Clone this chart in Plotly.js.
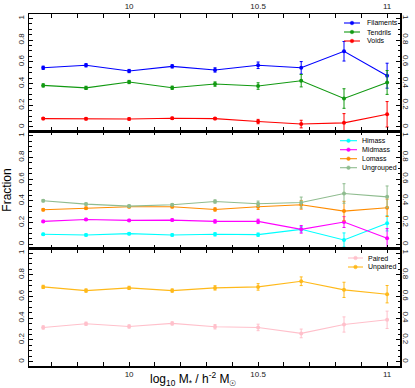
<!DOCTYPE html>
<html>
<head>
<meta charset="utf-8">
<script src="https://cdn.plot.ly/plotly-3.0.1.min.js"></script>
<style>
html, body { margin: 0; padding: 0; background: #fff; }
#fraction-plot { width: 415px; height: 388px; }
</style>
</head>
<body>
<div id="fraction-plot"></div>
<script>
// stellar mass bins, log10 M* / h^-2 Msun
var mass = [9.667, 9.833, 10.0, 10.167, 10.333, 10.5, 10.667, 10.833, 11.0];

// top panel: environment
var filaments    = [0.545, 0.568, 0.515, 0.558, 0.525, 0.568, 0.545, 0.697, 0.472];
var filamentsErr = [0.015, 0.015, 0.015, 0.015, 0.02, 0.03, 0.057, 0.09, 0.115];
var tendrils     = [0.383, 0.360, 0.414, 0.361, 0.395, 0.377, 0.426, 0.262, 0.410];
var tendrilsErr  = [0.015, 0.015, 0.015, 0.015, 0.02, 0.03, 0.057, 0.09, 0.11];
var voids        = [0.077, 0.075, 0.074, 0.080, 0.077, 0.050, 0.027, 0.038, 0.117];
var voidsErr     = [0.01, 0.01, 0.01, 0.01, 0.01, 0.02, 0.035, 0.085, 0.117];

// middle panel: group mass
var himass       = [0.092, 0.086, 0.098, 0.086, 0.092, 0.089, 0.138, 0.040, 0.193];
var himassErr    = [0.01, 0.01, 0.01, 0.01, 0.015, 0.015, 0.025, 0.065, 0.07];
var midmass      = [0.211, 0.229, 0.220, 0.223, 0.211, 0.211, 0.138, 0.205, 0.055];
var midmassErr   = [0.01, 0.01, 0.01, 0.01, 0.015, 0.02, 0.035, 0.05, 0.09];
var lomass       = [0.318, 0.333, 0.346, 0.346, 0.321, 0.346, 0.364, 0.306, 0.336];
var lomassErr    = [0.01, 0.01, 0.01, 0.01, 0.015, 0.025, 0.04, 0.09, 0.08];
var ungrouped    = [0.401, 0.370, 0.352, 0.364, 0.394, 0.373, 0.385, 0.468, 0.437];
var ungroupedErr = [0.01, 0.01, 0.01, 0.01, 0.015, 0.025, 0.05, 0.09, 0.10];

// bottom panel: pairs
var paired       = [0.315, 0.349, 0.324, 0.352, 0.321, 0.315, 0.260, 0.342, 0.385];
var pairedErr    = [0.015, 0.015, 0.015, 0.015, 0.02, 0.03, 0.04, 0.07, 0.08];
var unpaired     = [0.688, 0.654, 0.679, 0.654, 0.679, 0.688, 0.740, 0.661, 0.621];
var unpairedErr  = [0.015, 0.015, 0.015, 0.015, 0.02, 0.03, 0.04, 0.07, 0.08];

var topNames = ['Filaments', 'Tendrils', 'Voids'];
var topColors = ['#0000ff', '#119911', '#ff0000'];
var midNames = ['Himass', 'Midmass', 'Lomass', 'Ungrouped'];
var midColors = ['#00ffff', '#ff00ff', '#ff8c00', '#8fbc8f'];
var botNames = ['Paired', 'Unpaired'];
var botColors = ['#ffc0cb', '#ffb91a'];

var FONT = 'Liberation Sans, Arial, sans-serif';

function series(name, y, err, color, xa, ya) {
  return {
    x: mass,
    y: y,
    name: name,
    xaxis: xa,
    yaxis: ya,
    mode: 'lines+markers',
    line: { color: color, width: 1.1 },
    marker: { color: color, size: 4, symbol: 'circle' },
    error_y: { type: 'data', array: err, visible: true, color: color, thickness: 1, width: 1.5 },
    showlegend: false
  };
}

var data = [
  series(topNames[0], filaments, filamentsErr, topColors[0], 'x', 'y'),
  series(topNames[1], tendrils, tendrilsErr, topColors[1], 'x', 'y'),
  series(topNames[2], voids, voidsErr, topColors[2], 'x', 'y'),
  series(midNames[0], himass, himassErr, midColors[0], 'x2', 'y2'),
  series(midNames[1], midmass, midmassErr, midColors[1], 'x2', 'y2'),
  series(midNames[2], lomass, lomassErr, midColors[2], 'x2', 'y2'),
  series(midNames[3], ungrouped, ungroupedErr, midColors[3], 'x2', 'y2'),
  series(botNames[0], paired, pairedErr, botColors[0], 'x3', 'y3'),
  series(botNames[1], unpaired, unpairedErr, botColors[1], 'x3', 'y3')
];

// plot area in pixels, used to place the hand-made legends
var L = 29, R = 400, T = 14, B = 366;
function px(x) { return (x - L) / (R - L); }
function py(y) { return (B - y) / (B - T); }

var shapes = [], annotations = [];
function legend(names, colors, y0, x0, x1, tx) {
  for (var i = 0; i < names.length; i++) {
    var y = y0 + i * 9;
    shapes.push({ type: 'line', xref: 'paper', yref: 'paper', x0: px(x0), x1: px(x1), y0: py(y), y1: py(y),
                  line: { color: colors[i], width: 1.1 } });
    var mx = (x0 + x1) / 2;
    shapes.push({ type: 'circle', xref: 'paper', yref: 'paper', x0: px(mx - 1.8), x1: px(mx + 1.8), y0: py(y + 1.8), y1: py(y - 1.8),
                  fillcolor: colors[i], line: { color: colors[i], width: 0.5 } });
    annotations.push({ xref: 'paper', yref: 'paper', x: px(tx), y: py(y), xanchor: 'left', yanchor: 'middle',
                       text: names[i], showarrow: false, font: { family: FONT, size: 7, color: '#000' } });
  }
}
legend(topNames, topColors, 23, 344, 360, 365);
legend(midNames, midColors, 140.7, 340, 357, 360);
legend(botNames, botColors, 258, 348, 363, 366);

annotations.push({
  xref: 'paper', yref: 'paper', x: px(193), y: py(379), xanchor: 'center', yanchor: 'middle', showarrow: false,
  text: 'log<sub>10</sub> M<sub>*</sub> / h<sup>-2</sup> M<sub>\u2609</sub>',
  font: { family: FONT, size: 12, color: '#000' }
});

function xaxis(anchor, side, labels) {
  return {
    anchor: anchor, side: side, matches: anchor === 'y' ? undefined : 'x',
    range: [9.612, 11.05], autorange: false,
    showline: true, linecolor: '#000', linewidth: 1.5, mirror: 'allticks',
    ticks: 'inside', ticklen: 4, tickcolor: '#000', tick0: 10, dtick: 0.5,
    minor: { dtick: 0.1, ticks: 'inside', ticklen: 2.5, tickcolor: '#000' },
    showticklabels: labels, showgrid: false, zeroline: false,
    tickfont: { family: FONT, size: 8, color: '#222' }
  };
}
function yaxis(domain) {
  return {
    domain: domain, anchor: 'x', range: [-0.04, 1.04], autorange: false,
    showline: true, linecolor: '#000', linewidth: 1.5, mirror: 'allticks',
    ticks: 'inside', ticklen: 4, tickcolor: '#000', tick0: 0, dtick: 0.2, tickangle: -90,
    minor: { dtick: 0.05, ticks: 'inside', ticklen: 2.5, tickcolor: '#000' },
    showgrid: false, zeroline: false,
    tickfont: { family: FONT, size: 8, color: '#222' }
  };
}
function rightLabels(over) {
  return {
    overlaying: over, side: 'right', anchor: 'x', range: [-0.04, 1.04], autorange: false,
    tick0: 0, dtick: 0.2, tickangle: 90, ticks: '', showline: false, showgrid: false, zeroline: false,
    tickfont: { family: FONT, size: 8, color: '#222' }
  };
}

var layout = {
  width: 415, height: 388,
  margin: { l: L, r: 415 - R, t: T, b: 388 - B, pad: 0 },
  paper_bgcolor: '#fff', plot_bgcolor: '#fff',
  showlegend: false,
  xaxis: xaxis('y', 'top', true),
  xaxis2: xaxis('y2', 'bottom', false),
  xaxis3: xaxis('y3', 'bottom', true),
  yaxis: yaxis([2 / 3, 1]),
  yaxis2: Object.assign(yaxis([1 / 3, 2 / 3]), { anchor: 'x2',
    title: { text: 'Fraction', font: { family: FONT, size: 12, color: '#000' }, standoff: 3 } }),
  yaxis3: Object.assign(yaxis([0, 1 / 3]), { anchor: 'x3' }),
  yaxis4: Object.assign(rightLabels('y'), { anchor: 'x' }),
  yaxis5: Object.assign(rightLabels('y2'), { anchor: 'x2' }),
  yaxis6: Object.assign(rightLabels('y3'), { anchor: 'x3' }),
  shapes: shapes,
  annotations: annotations
};

// the overlay axes need a trace each to show up
['y4', 'y5', 'y6'].forEach(function (ya, i) {
  data.push({ x: [mass[0]], y: [0], xaxis: ['x', 'x2', 'x3'][i], yaxis: ya, mode: 'markers',
              marker: { opacity: 0 }, hoverinfo: 'skip', showlegend: false });
});

Plotly.newPlot('fraction-plot', data, layout, { staticPlot: true });
</script>
</body>
</html>
